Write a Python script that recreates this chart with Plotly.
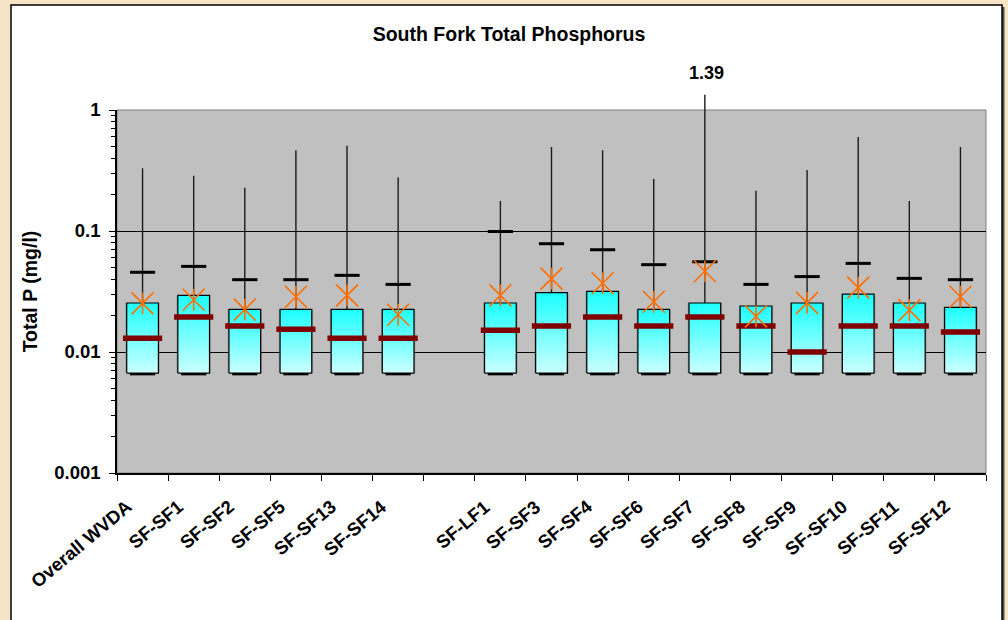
import math
import plotly.graph_objects as go

# ---------------- data ----------------
sites = ["Overall WVDA", "SF-SF1", "SF-SF2", "SF-SF5", "SF-SF13", "SF-SF14",
         "SF-LF1", "SF-SF3", "SF-SF4", "SF-SF6", "SF-SF7", "SF-SF8",
         "SF-SF9", "SF-SF10", "SF-SF11", "SF-SF12"]
group_sizes = [6, 10]          # two groups separated by an empty slot

minimum = [0.0066] * 16
q25 = [0.0067] * 16
q75 = [0.0254, 0.0294, 0.0225, 0.0225, 0.0225, 0.0225, 0.0254, 0.0309,
       0.0317, 0.0225, 0.0254, 0.0240, 0.0254, 0.0301, 0.0254, 0.0234]
median = [0.0130, 0.0195, 0.0164, 0.0154, 0.0130, 0.0130, 0.0151, 0.0164,
          0.0195, 0.0164, 0.0195, 0.0164, 0.0100, 0.0164, 0.0164, 0.0146]
p90 = [0.0456, 0.0510, 0.0396, 0.0396, 0.0430, 0.0362, 0.0990, 0.0785,
       0.0700, 0.0527, 0.0557, 0.0362, 0.0420, 0.0540, 0.0406, 0.0396]
mean = [0.0252, 0.0270, 0.0224, 0.0286, 0.0294, 0.0203, 0.0294, 0.0404,
        0.0370, 0.0260, 0.0465, 0.0197, 0.0255, 0.0340, 0.0222, 0.0286]
maximum = [0.330, 0.286, 0.228, 0.465, 0.507, 0.278, 0.177, 0.494,
           0.465, 0.269, 1.390, 0.215, 0.319, 0.598, 0.177, 0.494]
y_tick_vals = [0.001, 0.01, 0.1, 1]
y_tick_text = ["0.001", "0.01", "0.1", "1"]
title_text = "South Fork Total Phosphorus"
y_title = "Total P (mg/l)"

# ---------------- layout constants ----------------
W, H = 1008, 620
ML, MR, MT, MB = 117, 22, 110, 147
PW, PH = W - ML - MR, H - MT - MB
FONT = "Liberation Sans, Arial, sans-serif"
BEIGE = "#F5E5C6"

# slot positions (gap between the two groups)
xpos = []
s = 0
for gi, n in enumerate(group_sizes):
    for _ in range(n):
        xpos.append(s)
        s += 1
    if gi < len(group_sizes) - 1:
        s += 1
n_slots = s

fig = go.Figure()

# whiskers (min -> max)
wx, wy = [], []
for x, lo, hi in zip(xpos, minimum, maximum):
    wx += [x, x, None]
    wy += [lo, hi, None]
fig.add_trace(go.Scatter(x=wx, y=wy, mode="lines",
                         line=dict(color="#1a1a1a", width=1.4),
                         hoverinfo="skip", showlegend=False))

# minimum dashes (below boxes)
fig.add_trace(go.Scatter(x=xpos, y=minimum, mode="markers",
                         marker=dict(symbol="line-ew", size=18,
                                     line=dict(color="black", width=3)),
                         showlegend=False))

# box shadows (slightly offset, grey)
hw = 0.31
for x, lo, hi in zip(xpos, q25, q75):
    fig.add_trace(go.Scatter(
        x=[x - hw - 0.025, x + hw + 0.025, x + hw + 0.025, x - hw - 0.025, x - hw - 0.025],
        y=[lo, lo, hi, hi, lo],
        mode="lines", fill="toself", fillcolor="rgba(80,80,80,0.35)",
        line=dict(width=0), hoverinfo="skip", showlegend=False))

# boxes with vertical gradient
for x, lo, hi in zip(xpos, q25, q75):
    fig.add_trace(go.Scatter(
        x=[x - hw, x + hw, x + hw, x - hw, x - hw],
        y=[lo, lo, hi, hi, lo],
        mode="lines", fill="toself",
        line=dict(color="black", width=1.2),
        fillgradient=dict(type="vertical",
                          colorscale=[[0, "#CCFFFF"], [1, "#1CFFFF"]]),
        hoverinfo="skip", showlegend=False))

# medians
fig.add_trace(go.Scatter(x=xpos, y=median, mode="markers",
                         marker=dict(symbol="line-ew", size=28,
                                     line=dict(color="#800000", width=5.5)),
                         showlegend=False))
# 90th percentile dashes
fig.add_trace(go.Scatter(x=xpos, y=p90, mode="markers",
                         marker=dict(symbol="line-ew", size=18,
                                     line=dict(color="black", width=3)),
                         showlegend=False))
# means: star made of an x plus a vertical stroke
for sym, sz in [("x-thin", 22), ("line-ns", 15.5)]:
    fig.add_trace(go.Scatter(x=xpos, y=mean, mode="markers",
                             marker=dict(symbol=sym, size=sz,
                                         line=dict(color="#FF6E00", width=1.6)),
                             showlegend=False))

# whisker part above the top of the axis + its label
i_over = max(range(len(maximum)), key=lambda i: maximum[i])
px_per_decade = PH / (math.log10(y_tick_vals[-1]) - math.log10(y_tick_vals[0]))
over_px = (math.log10(maximum[i_over]) - math.log10(y_tick_vals[-1])) * px_per_decade
fig.add_annotation(x=xpos[i_over], y=1, xref="x", yref="y domain",
                   text=" ", font=dict(size=1), showarrow=True, arrowhead=0,
                   arrowwidth=1.4, arrowcolor="#1a1a1a", ax=0, ay=-over_px,
                   axref="pixel", ayref="pixel")
fig.add_annotation(x=xpos[i_over], y=1, xref="x", yref="y domain",
                   text=f"{maximum[i_over]:.2f}", showarrow=False,
                   xshift=2, yshift=over_px + 32,
                   font=dict(family=FONT, size=18, color="black", weight="bold"))

# category labels (rotated)
for x, name in zip(xpos, sites):
    fig.add_annotation(x=x, y=0, xref="x", yref="y domain", text=name,
                       showarrow=False, textangle=-40,
                       xanchor="right", yanchor="top", xshift=-4, yshift=-20,
                       font=dict(family=FONT, size=18.5, color="black", weight="bold"))

# chart frame (white area) and plot background
def px_x(p):
    return (p - ML) / PW

def px_y(p):
    return (H - MB - p) / PH

fig.add_shape(type="rect", xref="paper", yref="paper",
              x0=px_x(1002), x1=px_x(1004.5), y0=px_y(640), y1=px_y(7),
              fillcolor="#505050", line=dict(width=0), layer="below")
fig.add_shape(type="rect", xref="paper", yref="paper",
              x0=px_x(11), x1=px_x(1002), y0=px_y(640), y1=px_y(5),
              fillcolor="white", line=dict(color="black", width=1.5),
              layer="below")
fig.add_shape(type="rect", xref="x domain", yref="y domain",
              x0=0, x1=1, y0=0, y1=1, fillcolor="#C0C0C0",
              line=dict(color="#808080", width=1), layer="below")

fig.update_layout(
    width=W, height=H, autosize=False,
    margin=dict(l=ML, r=MR, t=MT, b=MB, pad=0),
    paper_bgcolor=BEIGE, plot_bgcolor="#C0C0C0",
    font=dict(family=FONT, color="black"),
    showlegend=False,
    title=dict(text=title_text, x=509 / W, xref="container", xanchor="center",
               y=1 - 34 / H, yref="container", yanchor="middle",
               font=dict(family=FONT, size=19.5, color="black", weight="bold")),
    xaxis=dict(range=[-0.5, n_slots - 0.5], tickmode="array",
               tickvals=xpos, showticklabels=False, ticks="",
               showline=True, linecolor="black", linewidth=1.5,
               showgrid=False, zeroline=False,
               minor=dict(tickmode="array",
                          tickvals=[k - 0.5 for k in range(n_slots + 1)],
                          ticks="outside", ticklen=6, tickcolor="black",
                          tickwidth=1.2, showgrid=False)),
    yaxis=dict(type="log", range=[math.log10(y_tick_vals[0]), math.log10(y_tick_vals[-1])],
               tickmode="array", tickvals=y_tick_vals, ticktext=y_tick_text,
               ticks="outside", ticklen=6, tickcolor="black", tickwidth=1.2,
               tickfont=dict(family=FONT, size=18.5, color="black", weight="bold"),
               ticklabelstandoff=5,
               showline=True, linecolor="black", linewidth=1.5,
               showgrid=True, gridcolor="black", gridwidth=1, zeroline=False,
               minor=dict(tickmode="array",
                          tickvals=[k * 10 ** e for e in range(-3, 0) for k in range(2, 10)],
                          ticks="outside", ticklen=4, tickcolor="black",
                          tickwidth=1, showgrid=False),
               title=dict(text=y_title, standoff=11,
                          font=dict(family=FONT, size=19.5, color="black", weight="bold"))),
)

fig.write_html("out.html", config={"displayModeBar": False},
               post_script="document.body.style.margin='0';")
